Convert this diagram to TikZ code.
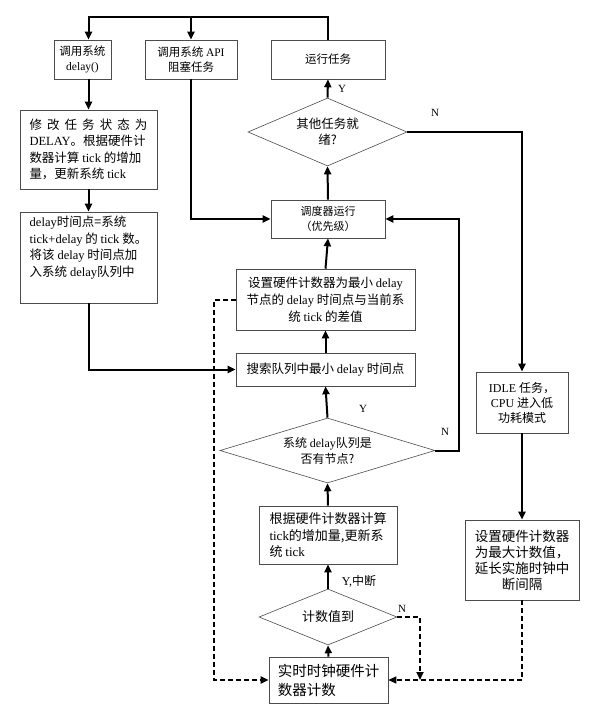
\documentclass[tikz,border=0pt]{standalone}
\usepackage{fontspec}
\setmainfont{Noto Sans CJK SC}
\newfontfamily\lat{Liberation Serif}
\usetikzlibrary{shapes}
\usetikzlibrary{arrows.meta}
\usetikzlibrary{calc}

\newcommand{\fsz}[2]{\fontsize{#1}{#2}\selectfont}

\begin{document}
\begin{tikzpicture}[x=1pt, y=-1pt,
    box/.style={draw=black!70, line width=0.6pt, rectangle, inner sep=2pt, align=center, font=\fsz{12}{16}},
    decide/.style={draw=black!70, line width=0.6pt, diamond, inner sep=0pt, align=center, font=\fsz{12.5}{16}},
    flow/.style={line width=2pt, -{Triangle[length=8pt, width=7pt]}},
    dflow/.style={flow, dash pattern=on 5pt off 3pt},
    lbl/.style={inner sep=1pt, font=\lat\fsz{11}{13}}]
   \useasboundingbox (0,0) rectangle (598,716);

   \node[box, minimum width=57pt, minimum height=39pt, font=\fsz{11.5}{15}] (callDelay) at (82.5,59.5) {调用系统\\{\lat delay()}};
   \node[box, minimum width=92pt, minimum height=39pt, font=\fsz{11.5}{15}] (callAPI) at (191,59.5) {调用系统 {\lat API}\\阻塞任务};
   \node[box, minimum width=114pt, minimum height=39pt, font=\fsz{11.5}{15}] (runTask) at (328,59.5) {运行任务};
   \node[decide, aspect=2.34, minimum width=159pt, minimum height=68pt] (readyDia) at (327.5,132) {其他任务就\\绪?};
   \node[box, minimum width=114pt, minimum height=38pt, font=\fsz{11}{15}] (sched) at (328,219) {调度器运行\\（优先级）};

   \node[box, minimum width=137pt, minimum height=79pt, align=left, font=\fsz{12.5}{16.5}] (modify) at (88.5,149.5)
     {\makebox[118pt][s]{修 改 任 务 状 态 为}\\{\lat DELAY}。根据硬件计\\数器计算 {\lat tick} 的增加\\量，更新系统 {\lat tick}};
   \node[box, minimum width=137pt, minimum height=91pt, align=left, font=\fsz{12.5}{16.5}] (delayPt) at (88.5,257.5)
     {{\lat delay}时间点={\lat}系统\\{\lat tick+delay} 的 {\lat tick} 数。\\将该 {\lat delay} 时间点加\\入系统 {\lat delay}队列中\\[6pt]};

   \node[box, minimum width=179pt, minimum height=61pt, font=\fsz{12.5}{17}] (setMin) at (325.5,299.5)
     {设置硬件计数器为最小 {\lat delay}\\节点的 {\lat delay} 时间点与当前系\\统 {\lat tick} 的差值};
   \node[box, minimum width=179pt, minimum height=33pt, font=\fsz{12.5}{16}] (search) at (325.5,369.5) {搜索队列中最小 {\lat delay} 时间点};
   \node[decide, aspect=3.3, minimum width=215pt, minimum height=65pt, font=\fsz{12}{16}] (queueDia) at (327.5,450.5) {系统 {\lat delay}队列是\\否有节点?};
   \node[box, minimum width=138pt, minimum height=58pt, align=left, font=\fsz{13}{16.5}] (update) at (328,535)
     {根据硬件计数器计算\\{\lat tick}的增加量,更新系\\统 {\lat tick}};
   \node[decide, aspect=2.46, minimum width=138pt, minimum height=56pt, font=\fsz{13}{16}] (countDia) at (328,617) {计数值到};
   \node[box, minimum width=119pt, minimum height=46pt, align=left, font=\fsz{14.5}{19}] (rtc) at (328.5,680) {实时时钟硬件计\\数器计数};

   \node[box, minimum width=92pt, minimum height=61pt, font=\fsz{12}{15}] (idle) at (522,402.5) {{\lat IDLE} 任务，\\{\lat CPU} 进入低\\功耗模式};
   \node[box, minimum width=114pt, minimum height=80pt, font=\fsz{13.5}{16}] (setMax) at (522,560) {设置硬件计数器\\为最大计数值，\\延长实施时钟中\\断间隔};

   \node[lbl] (yReady) at (342,89) {Y};
   \node[lbl] (nReady) at (435,113) {N};
   \node[lbl] (yQueue) at (363,409) {Y};
   \node[lbl] (nQueue) at (445,432) {N};
   \node[lbl, font=\fsz{12}{14}] (yCount) at (359,581) {{\lat Y,}中断};
   \node[lbl] (nCount) at (402,609) {N};

   \coordinate (topL) at (88.5,17);
   \coordinate (rightRail) at (459,450.5);
   \coordinate (leftRail) at (214,299.5);
   \coordinate (nJoin) at (420,680);

   \draw[flow] (runTask.north) |- (topL) -- (topL |- callDelay.north);
   \draw[flow] (topL -| callAPI.north) -- (callAPI.north);
   \draw[flow] (callDelay.south -| modify.north) -- (modify.north);
   \draw[flow] (modify.south) -- (delayPt.north);
   \draw[flow] (delayPt.south) |- (search.west);
   \draw[flow] (callAPI.south) |- (sched.west);
   \draw[flow] (readyDia.north) -- (runTask.south);
   \draw[flow] (sched.north) -- (readyDia.south);
   \draw[flow] (readyDia.east) -| (idle.north);
   \draw[flow] (idle.south) -- (setMax.north);
   \draw[flow] (setMin.north) -- (sched.south);
   \draw[flow] (search.north) -- (setMin.south);
   \draw[flow] (queueDia.north) -- (search.south);
   \draw[flow] (queueDia.east) -- (rightRail) |- (sched.east);
   \draw[flow] (update.north) -- (queueDia.south);
   \draw[flow] (countDia.north) -- (update.south);
   \draw[flow] (rtc.north) -- (countDia.south);

   \draw[dflow, line width=1.3pt] (setMax.south) |- (rtc.east);
   \draw[dflow] (countDia.east) -| (nJoin);
   \draw[dflow] (setMin.west) -- (leftRail) |- (rtc.west);
\end{tikzpicture}
\end{document}
